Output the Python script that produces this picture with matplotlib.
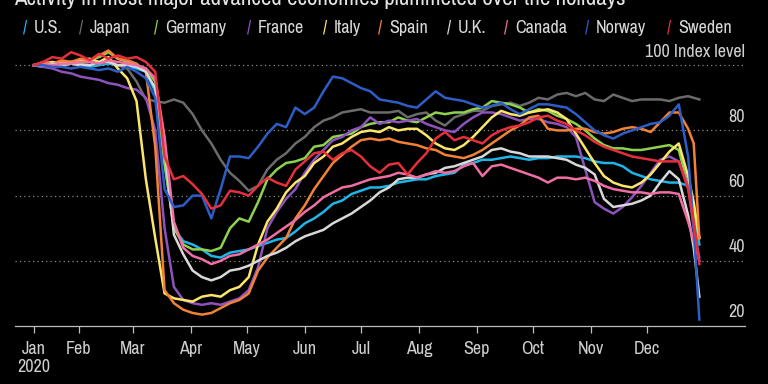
import numpy as np
import matplotlib
matplotlib.use("Agg")
import matplotlib.pyplot as plt
import matplotlib.transforms as mtransforms
from matplotlib import font_manager

# prefer a narrow face, like the original
narrow = [f.name for f in font_manager.fontManager.ttflist
          if 'Narrow' in f.name or 'Condensed' in f.name]
plt.rcParams['font.family'] = sorted(set(narrow)) + ['DejaVu Sans']
plt.rcParams['font.stretch'] = 'condensed'

# day of year 2020 (0 = Jan 1)
days = [7, 12, 17, 22, 27, 32, 37, 42, 47, 52, 57, 62, 67, 72, 77, 82, 87, 92, 97, 102,
        107, 112, 117, 122, 127, 132, 137, 142, 147, 152, 157, 162, 167, 172, 177, 182,
        187, 192, 197, 202, 207, 212, 217, 222, 227, 232, 237, 242, 247, 252, 257, 262,
        267, 272, 277, 282, 287, 292, 297, 302, 307, 312, 317, 322, 327, 332, 337, 342,
        347, 352, 357, 360, 363]

us = [100, 100.5, 100, 99.5, 100.5, 100, 99.5, 100, 100.5, 100, 99.5, 99, 98, 92, 70, 50,
      46, 45, 43.5, 41.5, 41, 42.5, 43, 43.5, 44.5, 45.5, 46.5, 47, 49, 51.5, 53, 55, 57.5,
      58.5, 60.5, 61.5, 62.5, 62.5, 63, 64, 64.5, 65, 65, 66, 66.5, 67, 69.5, 70, 71, 71,
      71.5, 72, 71.5, 71, 71.5, 71.5, 72, 72, 72, 71.5, 70.5, 70, 70, 69, 67, 66, 65, 64.5,
      64, 64, 63, 56, 45]
japan = [100, 100, 100.5, 100, 100.5, 100, 101, 100.5, 101, 100, 99, 95, 89.5, 89, 88.5,
         89.5, 88.5, 85, 80, 76, 71, 67, 64.5, 61.5, 63, 68, 71, 73, 76, 78, 81, 83, 84,
         85.5, 86, 86.5, 85.5, 85.5, 85.5, 86, 84, 85, 85.5, 83, 81.5, 84, 85, 86, 86, 87.5,
         88, 88.5, 87.5, 88.5, 90, 89.5, 91, 91.5, 90.5, 91.5, 89.5, 89, 91, 90, 89, 89.5,
         89.5, 89.5, 89, 90, 90.5, 90, 89.5]
germany = [100, 99.5, 100.5, 101, 101, 100.5, 101.5, 102.5, 104, 102, 101, 100, 99, 95, 70,
           50, 45, 43.5, 43.5, 43, 44, 50, 53, 52, 58, 65, 68, 70, 70.5, 71.5, 75, 75.5, 78,
           78.5, 79, 81, 82, 82.5, 82.5, 84, 83, 82.5, 84, 85.5, 85, 85.5, 85.5, 86.5, 87,
           89, 88.5, 88, 87, 85.5, 86.5, 86, 84.5, 83.5, 82, 80, 77.5, 75.5, 74.5, 74.5, 74,
           74, 74.5, 75, 75.5, 74, 63, 55, 47]
france = [100, 99.5, 99, 98, 97.5, 96.5, 96, 95.5, 94.5, 94, 93, 92.5, 90, 80, 50, 32, 28,
          27, 26.5, 27, 26.5, 27.5, 28.5, 31, 38, 50, 55, 59, 62, 67, 71, 74, 77, 78, 80, 81,
          84, 82, 83, 82.5, 83, 83.5, 82, 81, 80, 79.5, 82, 84, 85.5, 85.5, 85, 84, 83, 83.5,
          83.5, 82.5, 82, 81, 78, 68, 58, 56, 54.5, 56.5, 59.5, 63, 67, 71, 72, 70.5, 63, 50,
          41]
italy = [100, 100.5, 101, 100.5, 101, 101.5, 102, 101, 102.5, 99, 96, 89, 65, 47, 30, 28.5,
         28, 27.5, 29, 29.5, 29, 31, 32, 35, 45, 52, 56, 61, 64, 66, 70, 72, 75, 76, 78, 79.5,
         80, 79.5, 81, 80, 80.5, 80.5, 78.5, 76, 74.5, 74, 75.5, 78, 81, 84, 86, 85, 84.5,
         85.5, 86, 86.5, 85.5, 83.5, 79, 74.5, 70, 66, 64, 63, 62.5, 64, 66.5, 70, 73.5, 76,
         66, 58, 47]
spain = [100, 101, 100.5, 101.5, 101, 102, 101.5, 103, 104.5, 102, 101.5, 100.5, 98, 75, 31,
         27, 25, 24, 23.5, 24, 25.5, 27, 28, 30, 37, 41, 44, 47, 53, 57, 62, 66, 70, 72.5, 75,
         77, 77.5, 77, 77.5, 76.5, 76, 75.5, 74.5, 74, 72.5, 72, 71.5, 72.5, 74, 76, 78, 80,
         81.5, 84, 84.5, 80.5, 80, 80, 80.5, 80.5, 79.5, 79, 79.5, 80.5, 81, 80.5, 79.5, 82.5,
         85.5, 85.5, 80.5, 76, 47]
uk = [100, 100, 100.5, 100, 100.5, 100, 100, 101, 101, 100, 100, 99.5, 98, 93, 75, 48, 42,
      37, 35, 34, 35, 37, 37.5, 38.5, 40, 41.5, 42.5, 44, 46, 47.5, 48.5, 49.5, 51.5, 53,
      54.5, 56.5, 58.5, 61, 62.5, 65, 65.5, 65.5, 66.5, 67, 68.5, 69, 70, 71, 72, 74, 74.5,
      73.5, 73, 72, 72, 72, 71.5, 71, 69.5, 68.5, 66.5, 59, 56.5, 57, 57.5, 58.5, 60, 64,
      67.5, 65, 54, 44, 29]
canada = [100, 100.5, 100, 100.5, 100.5, 101, 101, 100.5, 101.5, 101, 100.5, 100, 99, 96,
          78, 52, 44, 41.5, 40.5, 39, 40, 41.5, 42, 43.5, 45, 46.5, 48.5, 50.5, 52.5, 55, 57,
          59.5, 61, 62.5, 63, 64, 65, 65.5, 66, 67, 66.5, 65.5, 66.5, 67.5, 67, 67.5, 69, 70,
          66, 69, 69.5, 68.5, 67.5, 66.5, 65.5, 64, 65.5, 65.5, 65, 65.5, 64.5, 63, 62, 61.5,
          61, 61, 60.5, 61, 61, 60.5, 52, 46, 40]
norway = [100, 100, 99.5, 99.5, 99, 99.5, 99, 98.5, 99, 98, 99.5, 98, 96, 90, 62, 56.5, 57,
          60, 60, 53, 62, 72, 72, 71.5, 75, 79, 82, 81, 87, 85, 87, 92, 96.5, 96, 94.5, 93,
          92, 89.5, 89, 88.5, 87.5, 87, 89.5, 92, 90, 89.5, 89, 88, 87, 87.5, 88.5, 86.5, 85,
          86.5, 88, 88, 87.5, 87, 85, 82.5, 80, 78.5, 77.5, 79, 80, 81, 82, 82.5, 84.5, 88,
          72, 50, 22]
sweden = [100, 101, 102.5, 102, 104, 103, 101.5, 103.5, 102, 103, 102, 102.5, 101, 98, 72,
          65, 66, 63.5, 60.5, 56, 57, 61.5, 61, 60, 63, 65.5, 64, 63, 68, 70.5, 73, 73.5, 71,
          73, 74, 72, 69, 67, 69.5, 70, 66.5, 70, 73, 77.5, 79.5, 77, 78, 77, 76, 78.5, 80,
          81, 81.5, 82.5, 84, 84.5, 83, 82, 80, 78.5, 76.5, 75, 74, 73, 72, 71.5, 71, 70.5,
          70.5, 70.5, 62, 52, 39]

names = ['U.S.', 'Japan', 'Germany', 'France', 'Italy', 'Spain', 'U.K.', 'Canada',
         'Norway', 'Sweden']
colors = ['#1fb5e8', '#6b6b6b', '#8fd14f', '#8e52bd', '#fbe56a', '#f28236', '#d8d8d8',
          '#f06ea3', '#2d5ec6', '#e5303c']
series = [us, japan, germany, france, italy, spain, uk, canada, norway, sweden]

tick_days = [7, 31, 60, 91, 121, 152, 182, 213, 244, 274, 305, 335]
tick_labels = ['Jan\n2020', 'Feb', 'Mar', 'Apr', 'May', 'Jun', 'Jul', 'Aug', 'Sep', 'Oct',
               'Nov', 'Dec']
y_levels = [20, 40, 60, 80, 100]

fig = plt.figure(figsize=(7.68, 3.84), dpi=100, facecolor='black')
ax = fig.add_axes([0.0195, 0.151, 0.9505, 0.7386], facecolor='black')

# dotted grid
for lvl in y_levels[1:]:
    ax.axhline(lvl, color='#8a8a8a', linestyle=(0, (1, 2.5)), linewidth=0.9, zorder=1)

for vals, col in zip(series, colors):
    ax.plot(days, vals, color=col, linewidth=1.8, solid_joinstyle='round', zorder=3)

ax.set_xlim(-3, 387.4)
ax.set_ylim(20, 107)

# right-side labels above the grid lines
trans = mtransforms.blended_transform_factory(ax.transAxes, ax.transData)
for lvl in y_levels:
    txt = '100 Index level' if lvl == 100 else str(lvl)
    ax.text(1.0, lvl + 1.7, txt, transform=trans, ha='right', va='bottom',
            color='#d0d0d0', fontsize=13)

ax.set_yticks([])
ax.set_xticks(tick_days)
ax.set_xticklabels(tick_labels, color='#cfcfcf', fontsize=13, linespacing=1.15)
ax.tick_params(axis='x', direction='out', length=5, width=0.9, color='#bdbdbd', pad=6)
for s in ['top', 'right', 'left']:
    ax.spines[s].set_visible(False)
ax.spines['bottom'].set_color('#bdbdbd')
ax.spines['bottom'].set_linewidth(0.9)

# legend with slash markers
legend_x = [34, 90, 165, 258, 334, 389, 458, 515, 596, 678]
for name, col, lx in zip(names, colors, legend_x):
    fig.text((lx - 9) / 768, 1 - 28 / 384, '/', color=col, fontsize=13, fontweight='bold',
             ha='center', va='center')
    fig.text(lx / 768, 1 - 28 / 384, name, color='#d8d8d8', fontsize=13, ha='left',
             va='center')

# title (cut off at the top of the image, as in the original)
fig.text(14 / 768, 1 - 5 / 384, 'Activity in most major advanced economies plummeted over the holidays',
         color='#e6e6e6', fontsize=16.5, ha='left', va='baseline')

fig.savefig('out.png', dpi=100, facecolor='black')
